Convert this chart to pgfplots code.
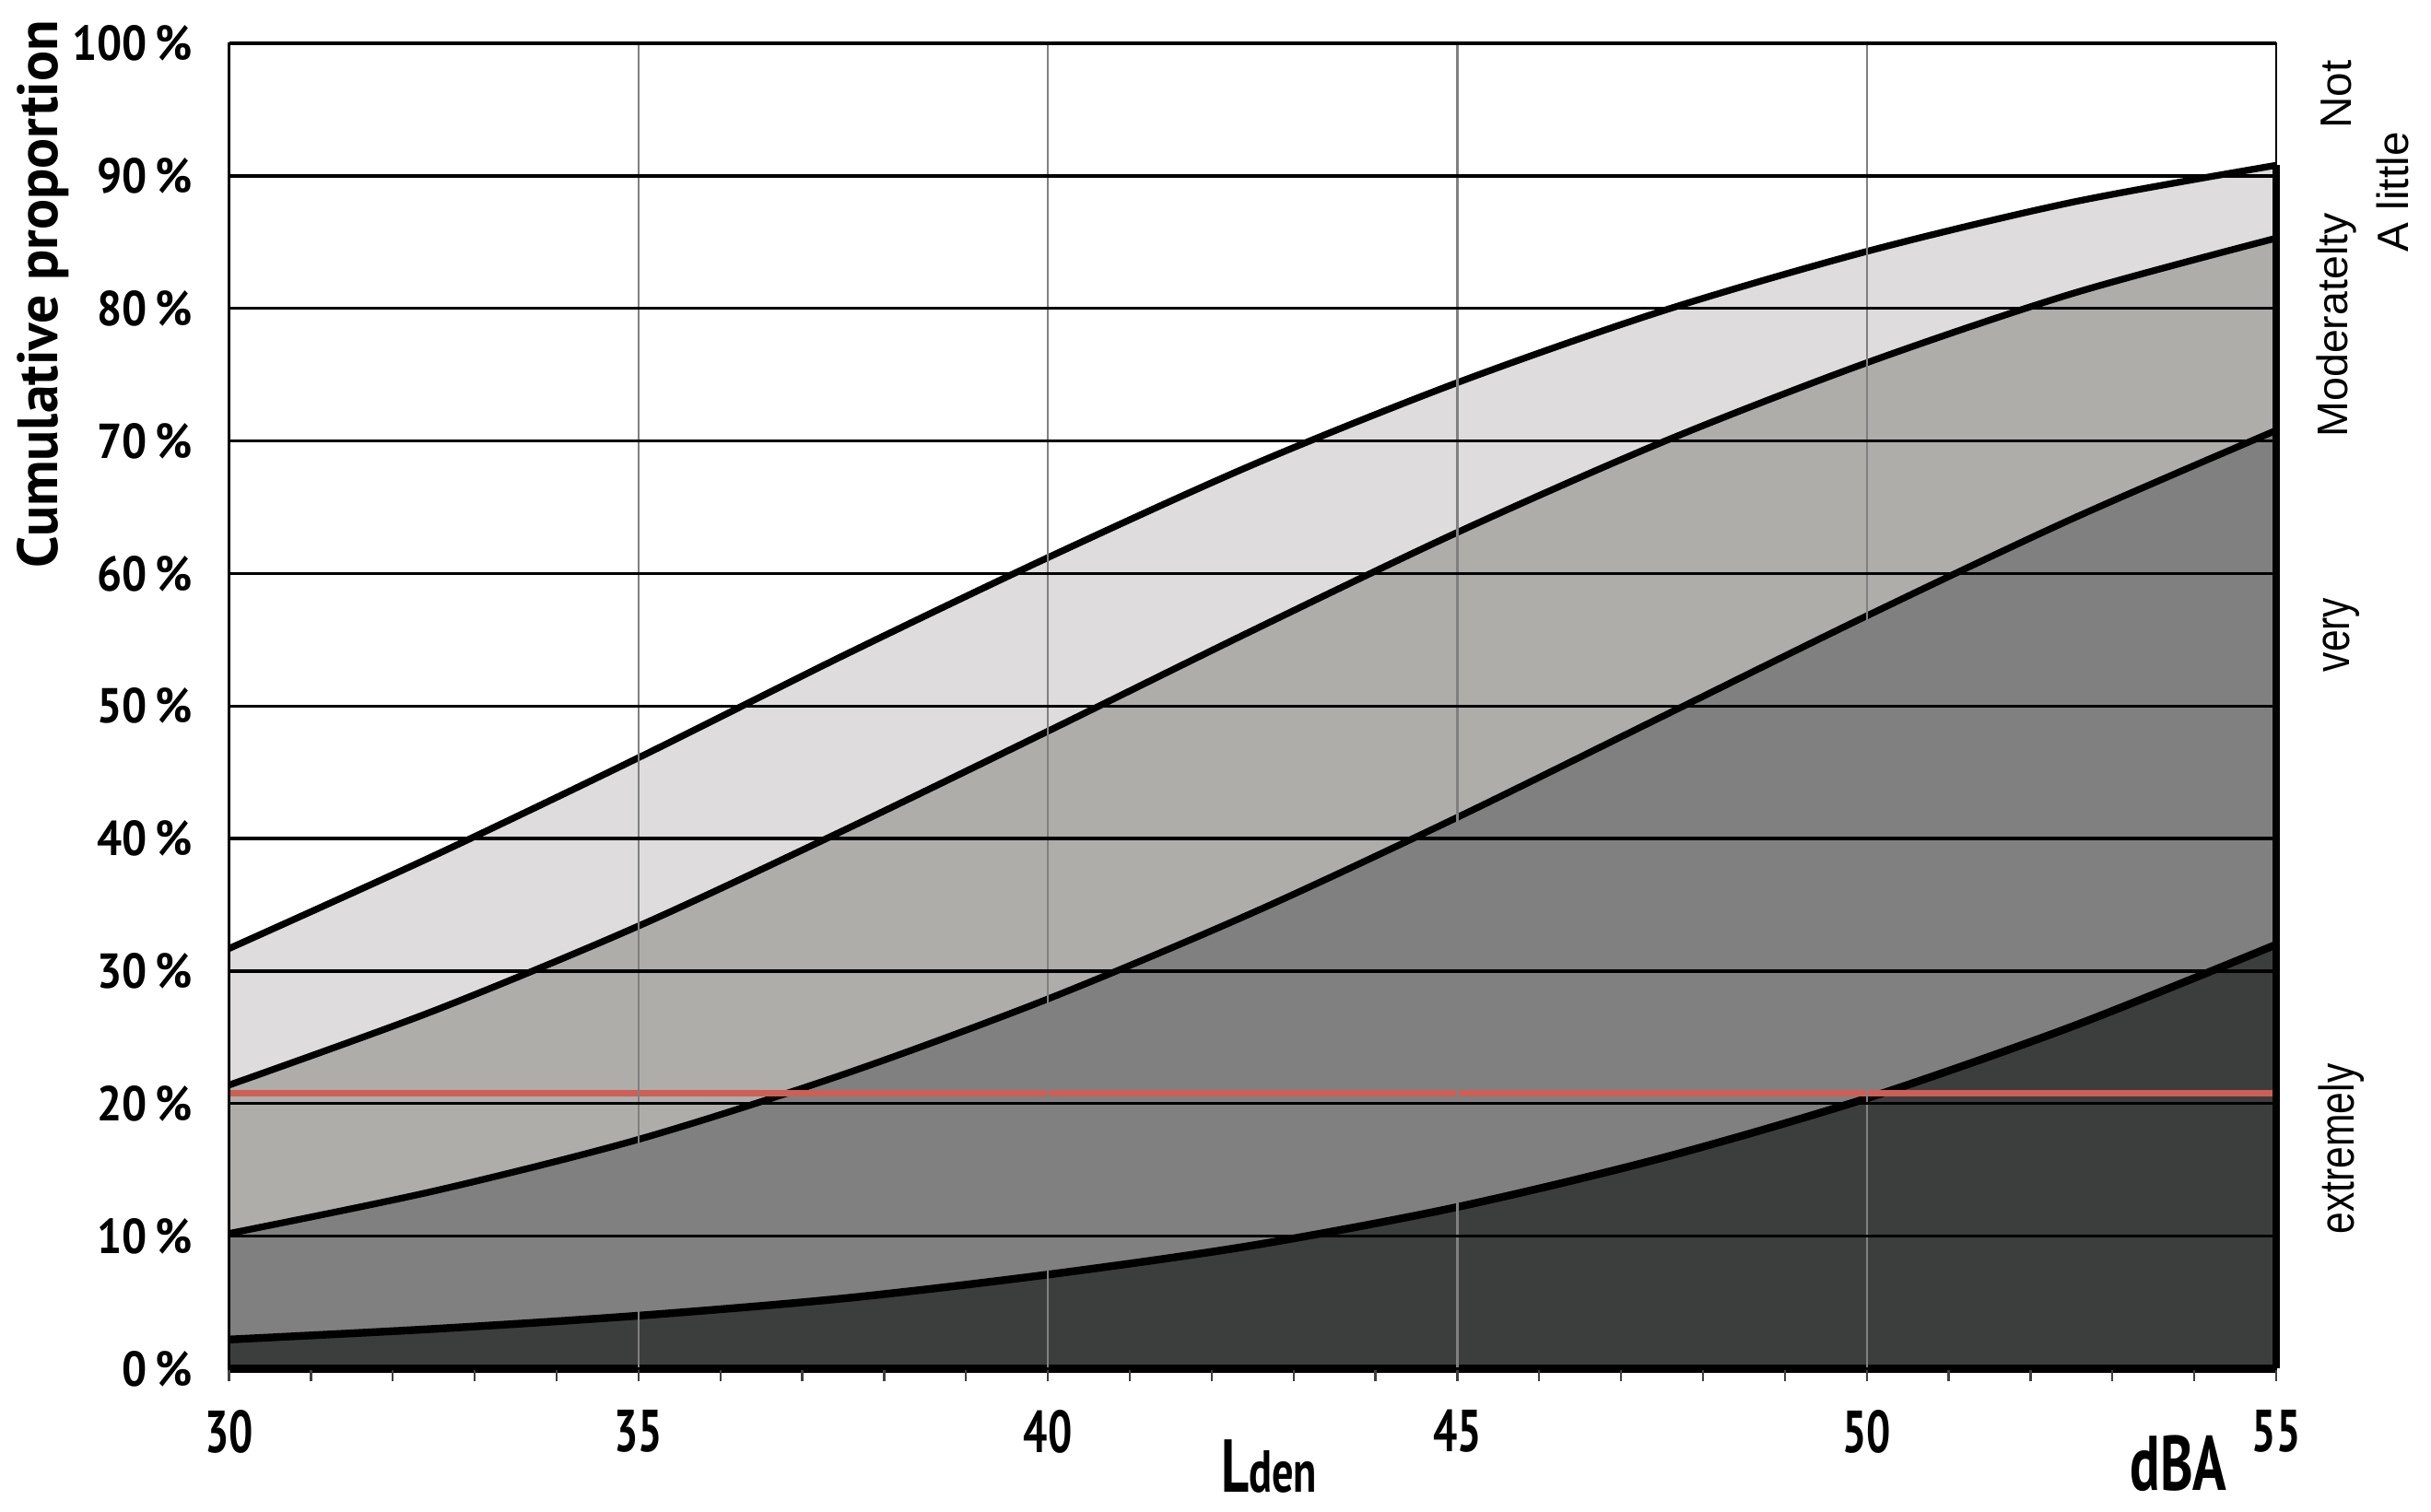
\documentclass[border=0pt]{standalone}
\usepackage{pgfplots}
\usepackage{pgfplotstable}
\pgfplotsset{compat=1.18}
\usepackage{fontspec}
\setmainfont{PT Sans}
\newfontfamily\condfont[FakeStretch=0.72]{PT Sans}
\newfontfamily\semicond[FakeStretch=0.9]{PT Sans}
\newfontfamily\labfont{Liberation Sans}
\newfontfamily\narrowfont[FakeStretch=0.8]{Liberation Sans}

\definecolor{bandA}{RGB}{222,220,221}
\definecolor{bandB}{RGB}{174,173,169}
\definecolor{bandC}{RGB}{128,128,128}
\definecolor{bandD}{RGB}{60,62,61}
\definecolor{refred}{RGB}{205,95,85}

% cumulative proportions (%) against Lden
\pgfplotstableread{
x     c1    c2    c3    c4
30    31.7  21.4  10.2  2.2
32.5  38.7  27.0  13.4  3.0
35    46.1  33.4  17.3  4.0
37.5  53.8  40.6  22.2  5.3
40    61.2  48.1  27.9  7.1
42.5  68.2  55.7  34.4  9.3
45    74.4  63.1  41.6  12.2
47.5  79.8  69.9  49.2  15.9
50    84.3  75.9  56.8  20.4
52.5  88.0  81.1  64.1  25.8
55    90.8  85.3  70.8  32.0
}\curves

\begin{document}
\begin{tikzpicture}
\begin{axis}[
  scale only axis,
  width=396.6pt, height=256.8pt,
  xmin=30, xmax=55, ymin=0, ymax=100,
  axis on top,
  clip=false,
  xtick pos=left,
  ytick pos=left,
  xtick={30,35,...,55},
  xticklabels={30,35,40,45,50,55},
  minor x tick num=4,
  ytick={0,10,...,100},
  yticklabels={0\,\%,10\,\%,20\,\%,30\,\%,40\,\%,50\,\%,60\,\%,70\,\%,80\,\%,90\,\%,100\,\%},
  xmajorgrids, ymajorgrids,
  x grid style={black!50, line width=0.4pt},
  y grid style={black, line width=0.6pt},
  tick align=outside,
  major tick length=2.5pt, minor tick length=2.5pt,
  x tick style={black!75, line width=0.4pt},
  y tick style={draw=none},
  axis line style={black, line width=0.5pt},
  x tick label style={font=\condfont\bfseries\fontsize{11.5}{12}\selectfont, yshift=-2pt},
  y tick label style={font=\semicond\bfseries\fontsize{9.5}{10}\selectfont, xshift=-1pt},
]
\addplot[fill=bandA, draw=none, smooth] table[x=x, y=c1]{\curves} \closedcycle;
\addplot[fill=bandB, draw=none, smooth] table[x=x, y=c2]{\curves} \closedcycle;
\addplot[fill=bandC, draw=none, smooth] table[x=x, y=c3]{\curves} \closedcycle;
\addplot[fill=bandD, draw=none, smooth] table[x=x, y=c4]{\curves} \closedcycle;

\addplot[black, line width=1.3pt, smooth] table[x=x, y=c1]{\curves};
\addplot[black, line width=1.3pt, smooth] table[x=x, y=c2]{\curves};
\addplot[black, line width=1.3pt, smooth] table[x=x, y=c3]{\curves};
\addplot[black, line width=1.5pt, smooth] table[x=x, y=c4]{\curves};

\addplot[refred, line width=1.2pt] coordinates {(30,20.8) (55,20.8)};
\addplot[black, line width=1.6pt] coordinates {(30,0) (55,0)};
\addplot[black, line width=1.3pt] coordinates {(55,0) (55,90.8)};

\node[rotate=90, font=\bfseries\fontsize{11}{12}\selectfont] at (rel axis cs:-0.0908,0.8107) {Cumulative proportion};
\node[font=\condfont\bfseries] at (rel axis cs:0.508,-0.0736) {\fontsize{14.5}{15}\selectfont L\fontsize{11.5}{12}\selectfont den};
\node[font=\condfont\bfseries\fontsize{15}{15}\selectfont] at (rel axis cs:0.9523,-0.0713) {dBA};

\node[rotate=90, font=\labfont\fontsize{8.5}{9}\selectfont] at (rel axis cs:1.0295,0.9614) {Not};
\node[rotate=90, font=\labfont\fontsize{8.5}{9}\selectfont] at (rel axis cs:1.0567,0.8879) {A little};
\node[rotate=90, font=\labfont\fontsize{8.3}{9}\selectfont] at (rel axis cs:1.0295,0.7874) {Moderatelty};
\node[rotate=90, font=\narrowfont\fontsize{9.5}{10}\selectfont] at (rel axis cs:1.0318,0.5537) {very};
\node[rotate=90, font=\narrowfont\fontsize{9.5}{10}\selectfont] at (rel axis cs:1.0318,0.1659) {extremely};

\path (rel axis cs:-0.1104,-0.1075) rectangle (rel axis cs:1.0756,1.0327);
\end{axis}
\end{tikzpicture}
\end{document}
